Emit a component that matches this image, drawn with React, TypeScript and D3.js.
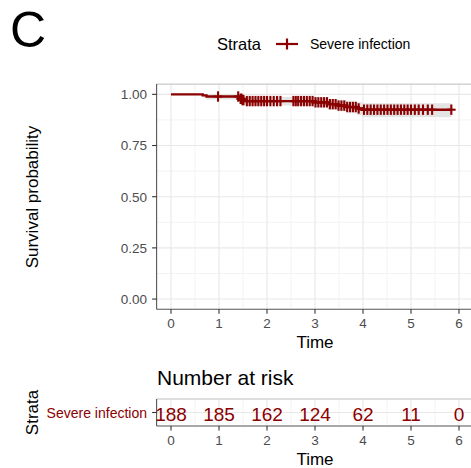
import React from "react";
import * as d3 from "d3";

// ---- data ----
const stepTimes = [0, 0.66, 0.74, 1.44, 1.48, 1.55, 2.98, 3.26, 3.48, 3.67, 3.88, 3.98];
const stepSurv = [1, 0.9947, 0.9894, 0.978, 0.972, 0.967, 0.961, 0.952, 0.945, 0.938, 0.931, 0.925];
const stepLower = [1, 0.985, 0.975, 0.96, 0.952, 0.945, 0.937, 0.926, 0.917, 0.908, 0.898, 0.888];
const stepUpper = [1, 1, 1, 0.995, 0.99, 0.987, 0.983, 0.976, 0.971, 0.966, 0.961, 0.957];
const lastTime = 5.84;
const censorTimes = [
  0.98, 1.4, 1.45, 1.47, 1.49, 1.51, 1.58, 1.64, 1.7, 1.76, 1.82, 1.88, 1.94, 2.0, 2.07,
  2.14, 2.21, 2.28, 2.55, 2.6, 2.65, 2.71, 2.77, 2.83, 2.89, 2.95, 3.01, 3.07, 3.13, 3.19,
  3.25, 3.31, 3.37, 3.43, 3.49, 3.55, 3.61, 3.67, 3.73, 3.79, 3.85, 3.91, 4.02, 4.09, 4.16,
  4.23, 4.3, 4.37, 4.44, 4.51, 4.58, 4.65, 4.72, 4.79, 4.86, 4.93, 5.0, 5.08, 5.16, 5.25,
  5.35, 5.44, 5.84,
];
const xTicks = [0, 1, 2, 3, 4, 5, 6];
const xMinor = [0.5, 1.5, 2.5, 3.5, 4.5, 5.5];
const yTicks = [0, 0.25, 0.5, 0.75, 1];
const yMinor = [0.125, 0.375, 0.625, 0.875];
const riskTimes = [0, 1, 2, 3, 4, 5, 6];
const riskCounts = [188, 185, 162, 124, 62, 11, 0];
const strataName = "Severe infection";

const RED = "#8B0000";
const FONT = "'Liberation Sans', Arial, Helvetica, sans-serif";

export default function App() {
  const x = d3.scaleLinear().domain([-0.3, 6.3]).range([156.6, 473.4]);
  const y = d3.scaleLinear().domain([-0.05, 1.05]).range([309.3, 84.1]);
  const panelL = 156.6, panelR = 473.4, panelT = 84.1, panelB = 309.3;
  const rT = 399, rB = 426, rMid = (rT + rB) / 2;

  const survAt = (t: number) => {
    let s = stepSurv[0];
    for (let i = 0; i < stepTimes.length; i++) if (stepTimes[i] <= t) s = stepSurv[i];
    return s;
  };

  const pts = stepTimes.map((t, i) => ({ t, s: stepSurv[i], lo: stepLower[i], hi: stepUpper[i] }));
  const last = pts[pts.length - 1];
  const ptsEnd = [...pts, { t: lastTime, s: last.s, lo: last.lo, hi: last.hi }];

  const line = d3.line<any>().x(d => x(d.t)).y(d => y(d.s)).curve(d3.curveStepAfter);
  const area = d3.area<any>().x(d => x(d.t)).y0(d => y(d.lo)).y1(d => y(d.hi)).curve(d3.curveStepAfter);

  const tickCol = "#4d4d4d";
  const axisCol = "#555555";

  return (
    <svg width={471} height={468} style={{ position: "absolute", left: 0, top: 0, background: "#fff" }} fontFamily={FONT}>
      <rect x={0} y={0} width={471} height={468} fill="#fff" />
      <text x={10} y={47} fontSize={50} fill="#000">C</text>

      {/* legend */}
      <text x={217} y={49.5} fontSize={16.5} fill="#000">Strata</text>
      <line x1={276} x2={298} y1={44} y2={44} stroke={RED} strokeWidth={2.2} />
      <line x1={287} x2={287} y1={38.5} y2={49.5} stroke={RED} strokeWidth={2.2} />
      <text x={310} y={48.5} fontSize={14} fill="#000">{strataName}</text>

      {/* main panel grid */}
      <g>
        {xMinor.map(v => <line key={"xm" + v} x1={x(v)} x2={x(v)} y1={panelT} y2={panelB} stroke="#f3f3f3" strokeWidth={1} />)}
        {yMinor.map(v => <line key={"ym" + v} x1={panelL} x2={panelR} y1={y(v)} y2={y(v)} stroke="#f3f3f3" strokeWidth={1} />)}
        {xTicks.map(v => <line key={"xg" + v} x1={x(v)} x2={x(v)} y1={panelT} y2={panelB} stroke="#e8e8e8" strokeWidth={1.1} />)}
        {yTicks.map(v => <line key={"yg" + v} x1={panelL} x2={panelR} y1={y(v)} y2={y(v)} stroke="#e8e8e8" strokeWidth={1.1} />)}
        <line x1={panelL} x2={panelR} y1={panelT} y2={panelT} stroke="#bdbdbd" strokeWidth={1} />
      </g>

      {/* confidence band, curve, censor marks */}
      <path d={area(ptsEnd) || ""} fill="#e4e4e4" />
      <path d={line(ptsEnd) || ""} fill="none" stroke={RED} strokeWidth={2.4} />
      {censorTimes.map((t, i) => {
        const cx = x(t), cy = y(survAt(t));
        return (
          <g key={"c" + i} stroke={RED} strokeWidth={2.1}>
            <line x1={cx - 4.3} x2={cx + 4.3} y1={cy} y2={cy} />
            <line x1={cx} x2={cx} y1={cy - 5.2} y2={cy + 5.2} />
          </g>
        );
      })}

      {/* axes */}
      <line x1={panelL} x2={panelL} y1={panelT} y2={panelB} stroke={axisCol} strokeWidth={1.1} />
      <line x1={panelL} x2={panelR} y1={panelB} y2={panelB} stroke={axisCol} strokeWidth={1.1} />
      {yTicks.map(v => (
        <g key={"yt" + v}>
          <line x1={panelL - 4.5} x2={panelL} y1={y(v)} y2={y(v)} stroke="#333" strokeWidth={1.1} />
          <text x={147} y={y(v) + 4.8} fontSize={13.5} fill={tickCol} textAnchor="end">{v.toFixed(2)}</text>
        </g>
      ))}
      {xTicks.map(v => (
        <g key={"xt" + v}>
          <line x1={x(v)} x2={x(v)} y1={panelB} y2={panelB + 4.5} stroke="#333" strokeWidth={1.1} />
          <text x={x(v)} y={328} fontSize={13.5} fill={tickCol} textAnchor="middle">{v}</text>
        </g>
      ))}
      <text x={315} y={347.5} fontSize={17} fill="#000" textAnchor="middle">Time</text>
      <text transform="translate(37.5,197) rotate(-90)" fontSize={17} fill="#000" textAnchor="middle">Survival probability</text>

      {/* risk table */}
      <text x={157} y={385} fontSize={21} fill="#000">Number at risk</text>
      {xMinor.map(v => <line key={"rxm" + v} x1={x(v)} x2={x(v)} y1={rT} y2={rB} stroke="#f3f3f3" strokeWidth={1} />)}
      {xTicks.map(v => <line key={"rxg" + v} x1={x(v)} x2={x(v)} y1={rT} y2={rB} stroke="#e8e8e8" strokeWidth={1.1} />)}
      <line x1={panelL} x2={panelR} y1={rMid} y2={rMid} stroke="#e8e8e8" strokeWidth={1.1} />
      <line x1={panelL} x2={panelR} y1={rT} y2={rT} stroke="#bdbdbd" strokeWidth={1} />
      <line x1={panelL} x2={panelL} y1={rT} y2={rB} stroke={axisCol} strokeWidth={1.1} />
      <line x1={panelL} x2={panelR} y1={rB} y2={rB} stroke={axisCol} strokeWidth={1.1} />
      <line x1={panelL - 4.5} x2={panelL} y1={rMid} y2={rMid} stroke="#333" strokeWidth={1.1} />
      <text x={147} y={418} fontSize={14} fill={RED} textAnchor="end">{strataName}</text>
      {riskTimes.map((t, i) => (
        <text key={"rc" + i} x={x(t)} y={420.5} fontSize={19} fill={RED} textAnchor="middle">{riskCounts[i]}</text>
      ))}
      {xTicks.map(v => (
        <g key={"rxt" + v}>
          <line x1={x(v)} x2={x(v)} y1={rB} y2={rB + 4.5} stroke="#333" strokeWidth={1.1} />
          <text x={x(v)} y={445} fontSize={13.5} fill={tickCol} textAnchor="middle">{v}</text>
        </g>
      ))}
      <text x={315} y={464.5} fontSize={17} fill="#000" textAnchor="middle">Time</text>
      <text transform={`translate(38,${rMid}) rotate(-90)`} fontSize={17} fill="#000" textAnchor="middle">Strata</text>
    </svg>
  );
}
